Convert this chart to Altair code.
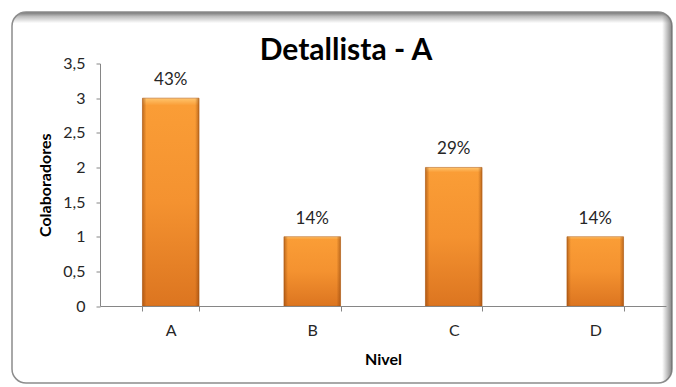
import altair as alt
import pandas as pd

# Employees per level
niveles = ["A", "B", "C", "D"]
colaboradores = [3, 1, 2, 1]

df = pd.DataFrame({"nivel": niveles, "colab": colaboradores})

FONT = "Lato"
W, H = 566, 242.5

# Rounded card behind the chart, with a soft inner shadow on the top and right edges
frame_pos = dict(
    x=alt.value(-88), x2=alt.value(572), y=alt.value(-51.5), y2=alt.value(319.5)
)
frame = alt.Chart(alt.Data(values=[{}])).mark_rect(
    cornerRadius=14,
    stroke="#8c8c8c",
    strokeWidth=1.5,
    color=alt.Gradient(
        gradient="linear",
        x1=0, x2=0, y1=0, y2=1,
        stops=[
            alt.GradientStop(offset=0, color="#727272"),
            alt.GradientStop(offset=0.012, color="#bdbdbd"),
            alt.GradientStop(offset=0.03, color="#ffffff"),
            alt.GradientStop(offset=1, color="#ffffff"),
        ],
    ),
).encode(**frame_pos)

frame_side = alt.Chart(alt.Data(values=[{}])).mark_rect(
    cornerRadius=14,
    color=alt.Gradient(
        gradient="linear",
        x1=0, x2=1, y1=0, y2=0,
        stops=[
            alt.GradientStop(offset=0, color="rgba(120,120,120,0)"),
            alt.GradientStop(offset=0.985, color="rgba(120,120,120,0)"),
            alt.GradientStop(offset=1, color="rgba(110,110,110,0.85)"),
        ],
    ),
).encode(**frame_pos)

base = alt.Chart(df).encode(
    x=alt.X(
        "nivel:N",
        title="Nivel",
        sort=niveles,
        scale=alt.Scale(paddingInner=0.6, paddingOuter=0.3),
        axis=alt.Axis(
            labelAngle=0,
            tickBand="extent",
            labelPadding=11,
            labelFontSize=16,
            titlePadding=13,
            zindex=1,
        ),
    ),
    y=alt.Y(
        "colab:Q",
        title="Colaboradores",
        scale=alt.Scale(domain=[0, 3.5], nice=False),
        axis=alt.Axis(
            values=[0, 0.5, 1, 1.5, 2, 2.5, 3, 3.5],
            labelExpr="replace(format(datum.value, ''), '.', ',')",
            grid=False,
            tickSize=4,
            labelPadding=11,
            labelFontSize=16,
            titlePadding=9,
            zindex=1,
        ),
    ),
)

# Bar body: vertical orange gradient
bars = base.mark_bar(
    stroke="#b8651f",
    strokeWidth=0.6,
    color=alt.Gradient(
        gradient="linear",
        x1=0, x2=0, y1=0, y2=1,
        stops=[
            alt.GradientStop(offset=0, color="#ffc56e"),
            alt.GradientStop(offset=0.035, color="#fa9d36"),
            alt.GradientStop(offset=0.5, color="#f49230"),
            alt.GradientStop(offset=1, color="#dc7520"),
        ],
    ),
)

# Bevelled side edges
bevel = base.mark_bar(
    color=alt.Gradient(
        gradient="linear",
        x1=0, x2=1, y1=0, y2=0,
        stops=[
            alt.GradientStop(offset=0, color="rgba(140,65,10,0.55)"),
            alt.GradientStop(offset=0.07, color="rgba(140,65,10,0)"),
            alt.GradientStop(offset=0.93, color="rgba(140,65,10,0)"),
            alt.GradientStop(offset=1, color="rgba(140,65,10,0.55)"),
        ],
    ),
)

labels = base.transform_joinaggregate(
    total="sum(colab)"
).transform_calculate(
    pct="datum.colab / datum.total"
).mark_text(
    dy=-13, baseline="alphabetic", font=FONT, fontSize=17, color="#262626"
).encode(text=alt.Text("pct:Q", format=".0%"))

chart = alt.layer(frame, frame_side, bars, bevel, labels).properties(
    width=W,
    height=H,
    autosize=alt.AutoSizeParams(type="none"),
    padding={"left": 100, "top": 63.5, "right": 10, "bottom": 81},
    title=alt.Title(
        "Detallista - A",
        font=FONT,
        fontSize=30,
        fontWeight="bold",
        color="#000000",
        anchor="middle",
        dx=-37,
        dy=83,
        offset=4,
        baseline="alphabetic",
    ),
).configure_view(stroke=None).configure_axis(
    labelFont=FONT,
    labelColor="#262626",
    titleFont=FONT,
    titleFontSize=16,
    titleFontWeight="bold",
    titleColor="#000000",
    domainColor="#868686",
    tickColor="#868686",
    tickSize=5,
)

chart.save("out.html", embed_options={"renderer": "svg", "actions": False})
